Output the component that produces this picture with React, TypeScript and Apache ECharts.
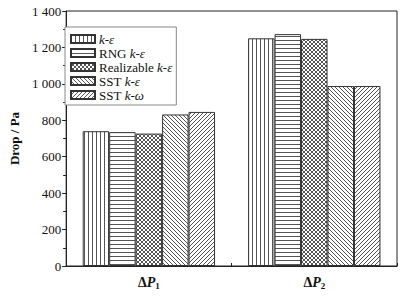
import React, { useEffect, useRef } from "react";
import * as echarts from "echarts";

const categories = ["ΔP1", "ΔP2"];
const seriesNames = ["k-ε", "RNG k-ε", "Realizable k-ε", "SST k-ε", "SST k-ω"];
const kEps = [740, 1250];
const rngKEps = [735, 1273];
const realizableKEps = [727, 1247];
const sstKEps = [832, 988];
const sstKOmega = [846, 988];
const seriesValues = [kEps, rngKEps, realizableKEps, sstKEps, sstKOmega];
const patternKinds = ["vertical", "horizontal", "cross", "back", "forward"];

const FONT = "'Liberation Serif', 'Times New Roman', serif";
const LINE = "#555555";

function makePattern(kind: string) {
  const s = 4;
  const c = document.createElement("canvas");
  c.width = s;
  c.height = s;
  const ctx = c.getContext("2d")!;
  ctx.fillStyle = "#ffffff";
  ctx.fillRect(0, 0, s, s);
  ctx.fillStyle = LINE;
  for (let i = 0; i < s; i++) {
    if (kind === "vertical") ctx.fillRect(0, i, 1, 1);
    if (kind === "horizontal") ctx.fillRect(i, 0, 1, 1);
    if (kind === "back" || kind === "cross") ctx.fillRect(i, i, 1, 1);
    if (kind === "forward" || kind === "cross") ctx.fillRect(s - 1 - i, i, 1, 1);
  }
  return { image: c, repeat: "repeat", imageWidth: s, imageHeight: s } as any;
}

export default function App() {
  const ref = useRef<HTMLDivElement>(null);
  useEffect(() => {
    if (!ref.current) return;
    const chart = echarts.init(ref.current, null, { renderer: "svg" });
    const series = seriesNames.map((name, idx) => ({
      name,
      type: "bar",
      data: seriesValues[idx],
      barGap: "0%",
      barCategoryGap: "20%",
      itemStyle: {
        color: makePattern(patternKinds[idx]),
        borderColor: "#333",
        borderWidth: 1,
      },
    }));
    chart.setOption({
      animation: false,
      backgroundColor: "#ffffff",
      grid: {
        left: 56,
        right: 21,
        top: 11,
        bottom: 30,
        show: true,
        borderColor: "#222",
        borderWidth: 1,
        backgroundColor: "transparent",
      },
      legend: {
        left: 65,
        top: 27,
        orient: "vertical",
        icon: "rect",
        itemWidth: 24,
        itemHeight: 8,
        itemGap: 0,
        padding: [5, 4, 3, 5],
        borderColor: "#888",
        borderWidth: 1,
        backgroundColor: "#fff",
        data: seriesNames,
        formatter: (name: string) => name.replace(/(k-[εω])/, "{i|$1}"),
        textStyle: {
          fontFamily: FONT,
          fontSize: 13,
          color: "#111",
          lineHeight: 14,
          padding: [0, 0, 0, -1],
          rich: {
            i: { fontFamily: FONT, fontSize: 13, fontStyle: "italic", color: "#111", lineHeight: 14 },
          },
        },
      },
      xAxis: {
        type: "category",
        data: categories,
        axisLine: { lineStyle: { color: "#222", width: 1 } },
        axisTick: { show: true, inside: true, length: 3, lineStyle: { color: "#222" } },
        axisLabel: {
          margin: 8,
          formatter: (v: string) => `{d|Δ}{p|P}{s|${v.slice(2)}}`,
          rich: {
            d: { fontFamily: FONT, fontSize: 14, fontWeight: "bold", color: "#111", lineHeight: 16 },
            p: { fontFamily: FONT, fontSize: 14, fontWeight: "bold", fontStyle: "italic", color: "#111", lineHeight: 16 },
            s: { fontFamily: FONT, fontSize: 9, fontWeight: "bold", color: "#111", lineHeight: 9, verticalAlign: "bottom" },
          },
        },
      },
      yAxis: {
        type: "value",
        min: 0,
        max: 1400,
        interval: 200,
        name: "Drop / Pa",
        nameLocation: "middle",
        nameGap: 27,
        nameTextStyle: { fontFamily: FONT, fontSize: 13, fontWeight: "bold", color: "#111" },
        axisLine: { show: true, lineStyle: { color: "#222", width: 1 } },
        axisTick: { show: true, inside: false, length: 4, lineStyle: { color: "#222" } },
        minorTick: { show: true, splitNumber: 2, length: 3, lineStyle: { color: "#222" } },
        splitLine: { show: false },
        axisLabel: {
          margin: 5,
          fontFamily: FONT,
          fontSize: 13,
          color: "#111",
          formatter: (v: number) =>
            v >= 1000 ? `${Math.floor(v / 1000)} ${String(v % 1000).padStart(3, "0")}` : String(v),
        },
      },
      series,
    });
    return () => chart.dispose();
  }, []);
  return (
    <div
      ref={ref}
      style={{ position: "fixed", left: 0, top: 0, width: 418, height: 296, background: "#fff" }}
    />
  );
}
